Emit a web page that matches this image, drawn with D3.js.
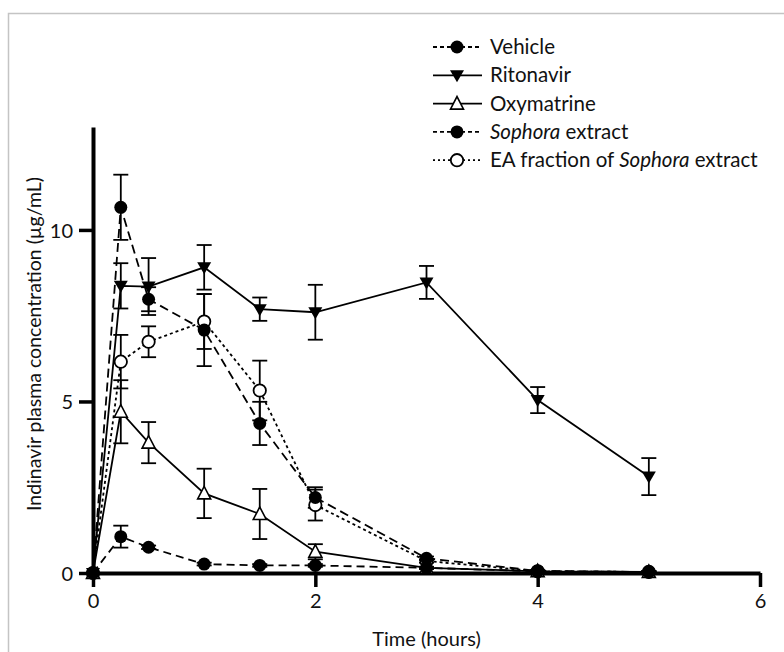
<!DOCTYPE html>
<html>
<head>
<meta charset="utf-8">
<script src="https://cdn.jsdelivr.net/npm/d3@7"></script>
<style>
  body { margin: 0; background: #fff; }
  svg text { font-family: Lato, "Open Sans", sans-serif; fill: #111; }
</style>
</head>
<body>
<div id="chart"></div>
<script>
const width = 784;
const height = 652;

// data
const times = [0, 0.25, 0.5, 1, 1.5, 2, 3, 4, 5];
const vehicleMean = [0, 1.06, 0.75, 0.26, 0.22, 0.22, 0.15, 0.05, 0.03];
const vehicleErr = [0, 0.32, 0.05, 0.04, 0.04, 0.04, 0.03, 0.02, 0.02];
const ritonavirMean = [0, 8.37, 8.35, 8.91, 7.69, 7.6, 8.47, 5.04, 2.81];
const ritonavirErr = [0, 0.66, 0.83, 0.65, 0.34, 0.8, 0.48, 0.38, 0.54];
const oxymatrineMean = [0, 4.7, 3.8, 2.32, 1.72, 0.62, 0.15, 0.05, 0.03];
const oxymatrineErr = [0, 0.92, 0.6, 0.72, 0.73, 0.22, 0.03, 0.02, 0.02];
const sophoraMean = [0, 10.66, 7.98, 7.08, 4.36, 2.2, 0.43, 0.06, 0.03];
const sophoraErr = [0, 0.95, 0.35, 1.05, 0.63, 0.3, 0.05, 0.02, 0.02];
const eaMean = [0, 6.16, 6.74, 7.33, 5.32, 1.98, 0.35, 0.05, 0.03];
const eaErr = [0, 0.78, 0.45, 0.8, 0.87, 0.45, 0.05, 0.02, 0.02];

const xTicks = [0, 2, 4, 6];
const yTicks = [0, 5, 10];

const series = [
  { name: ["Vehicle"], mean: vehicleMean, err: vehicleErr, dash: "8,5", legendDash: "4,3", marker: "dot", z: 4 },
  { name: ["Ritonavir"], mean: ritonavirMean, err: ritonavirErr, dash: null, legendDash: null, marker: "down", z: 2 },
  { name: ["Oxymatrine"], mean: oxymatrineMean, err: oxymatrineErr, dash: null, legendDash: null, marker: "up", z: 1 },
  { name: [{ t: "Sophora", i: true }, { t: " extract" }], mean: sophoraMean, err: sophoraErr, dash: "9,5", legendDash: "4,3", marker: "dot", z: 3 },
  { name: ["EA fraction of ", { t: "Sophora", i: true }, " extract"], mean: eaMean, err: eaErr, dash: "3,3", legendDash: "2,3", marker: "open", z: 0 }
];

const svg = d3.select("#chart")
  .append("svg")
  .attr("width", width)
  .attr("height", height);

// light frame round the figure
svg.append("rect")
  .attr("x", 8.5)
  .attr("y", 13.5)
  .attr("width", width)
  .attr("height", height)
  .attr("fill", "none")
  .attr("stroke", "#c4c4c4")
  .attr("stroke-width", 1.5);

const x = d3.scaleLinear().domain([0, 6]).range([93, 760]);
const y = d3.scaleLinear().domain([0, 13]).range([573, 127]);

// axes
const xAxis = svg.append("g")
  .attr("transform", `translate(0,${y(0)})`)
  .call(d3.axisBottom(x).tickValues(xTicks).tickFormat(d3.format("d"))
    .tickSize(14).tickSizeOuter(0).tickPadding(7));
const yAxis = svg.append("g")
  .attr("transform", `translate(${x(0)},0)`)
  .call(d3.axisLeft(y).tickValues(yTicks).tickFormat(d3.format("d"))
    .tickSize(14).tickSizeOuter(0).tickPadding(6));

[xAxis, yAxis].forEach(g => {
  g.select(".domain").attr("stroke", "#000").attr("stroke-width", 4);
  g.selectAll(".tick line").attr("stroke", "#000").attr("stroke-width", 3.5);
  g.selectAll(".tick text")
    .attr("font-size", "20px")
    .attr("font-family", "Lato, sans-serif")
    .attr("fill", "#111");
});
yAxis.selectAll(".tick text").attr("dy", "0.36em");

// axis titles
svg.append("text")
  .attr("x", x(3))
  .attr("y", 646)
  .attr("text-anchor", "middle")
  .attr("font-size", "20px")
  .text("Time (hours)");

svg.append("text")
  .attr("transform", `translate(41,344) rotate(-90)`)
  .attr("text-anchor", "middle")
  .attr("font-size", "19.5px")
  .text("Indinavir plasma concentration (\u00b5g/mL)");

const line = d3.line()
  .x(d => x(d[0]))
  .y(d => y(d[1]));

function drawMarker(g, type, cx, cy) {
  if (type === "dot") {
    g.append("circle").attr("cx", cx).attr("cy", cy).attr("r", 6.5).attr("fill", "#000");
  } else if (type === "open") {
    g.append("circle").attr("cx", cx).attr("cy", cy).attr("r", 6.2)
      .attr("fill", "#fff").attr("stroke", "#000").attr("stroke-width", 1.8);
  } else if (type === "down") {
    g.append("path")
      .attr("d", `M${cx - 7},${cy - 5} L${cx + 7},${cy - 5} L${cx},${cy + 7} Z`)
      .attr("fill", "#000");
  } else if (type === "up") {
    g.append("path")
      .attr("d", `M${cx - 6.5},${cy + 5.5} L${cx + 6.5},${cy + 5.5} L${cx},${cy - 7} Z`)
      .attr("fill", "#fff").attr("stroke", "#000").attr("stroke-width", 1.6);
  }
}

// error bars first, then lines, then markers
const bars = svg.append("g");
series.forEach(s => {
  times.forEach((t, i) => {
    if (s.err[i] <= 0) return;
    const cx = x(t);
    const y1 = y(s.mean[i] + s.err[i]);
    const y2 = y(s.mean[i] - s.err[i]);
    bars.append("line").attr("x1", cx).attr("x2", cx).attr("y1", y1).attr("y2", y2)
      .attr("stroke", "#000").attr("stroke-width", 1.8);
    [y1, y2].forEach(yy => {
      bars.append("line").attr("x1", cx - 7.5).attr("x2", cx + 7.5).attr("y1", yy).attr("y2", yy)
        .attr("stroke", "#000").attr("stroke-width", 1.8);
    });
  });
});

series.forEach(s => {
  svg.append("path")
    .datum(times.map((t, i) => [t, s.mean[i]]))
    .attr("d", line)
    .attr("fill", "none")
    .attr("stroke", "#000")
    .attr("stroke-width", 1.8)
    .attr("stroke-dasharray", s.dash);
});

// markers, filled ones on top
series.slice().sort((a, b) => a.z - b.z).forEach(s => {
  const g = svg.append("g");
  times.forEach((t, i) => drawMarker(g, s.marker, x(t), y(s.mean[i])));
});

// legend
const legend = svg.append("g");
series.forEach((s, i) => {
  const ly = 47 + i * 28.3;
  legend.append("line")
    .attr("x1", 433).attr("x2", 482).attr("y1", ly).attr("y2", ly)
    .attr("stroke", "#000").attr("stroke-width", 1.8)
    .attr("stroke-dasharray", s.legendDash);
  drawMarker(legend, s.marker, 457, ly);
  const txt = legend.append("text")
    .attr("x", 490).attr("y", ly + 7)
    .attr("font-size", "20.5px");
  s.name.forEach(part => {
    if (typeof part === "string") txt.append("tspan").text(part);
    else txt.append("tspan").attr("font-style", part.i ? "italic" : null).text(part.t);
  });
});
</script>
</body>
</html>
